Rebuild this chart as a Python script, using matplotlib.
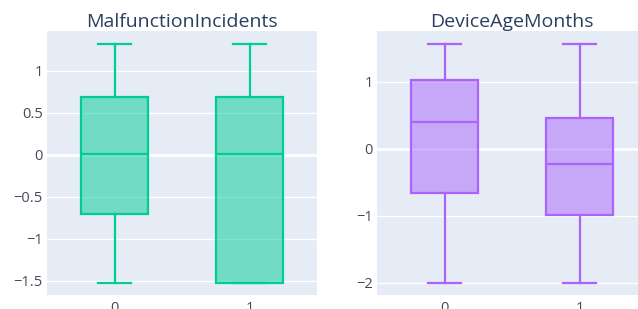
import matplotlib
matplotlib.use("Agg")
import matplotlib.pyplot as plt
from matplotlib.ticker import FuncFormatter

categories = ["0", "1"]

# MalfunctionIncidents box statistics per category
mal_whislo = [-1.52, -1.52]
mal_q1 = [-0.70, -1.52]
mal_med = [0.015, 0.015]
mal_q3 = [0.69, 0.69]
mal_whishi = [1.32, 1.32]

# DeviceAgeMonths box statistics per category
age_whislo = [-2.0, -2.0]
age_q1 = [-0.66, -0.99]
age_med = [0.40, -0.22]
age_q3 = [1.03, 0.46]
age_whishi = [1.57, 1.57]

mal_ticks = [-1.5, -1, -0.5, 0, 0.5, 1]
age_ticks = [-2, -1, 0, 1]

BG = "#E5ECF6"
TXT = "#2a3f5f"
plt.rcParams["font.family"] = ["Open Sans", "DejaVu Sans"]

fig = plt.figure(figsize=(6.38, 3.09), dpi=100)

def fmt(v, pos):
    s = ("%g" % v)
    return s.replace("-", "\u2212")

def panel(rect, title, lo, q1, med, q3, hi, color, ticks, ylim):
    ax = fig.add_axes(rect)
    ax.set_facecolor(BG)
    stats = []
    for i in range(len(categories)):
        stats.append(dict(whislo=lo[i], q1=q1[i], med=med[i], q3=q3[i],
                          whishi=hi[i], fliers=[], label=categories[i]))
    lw = 1.6
    ax.bxp(stats, positions=range(len(categories)), widths=0.5, capwidths=0.25,
           patch_artist=True, showfliers=False,
           boxprops=dict(facecolor=color + "80", edgecolor=color, linewidth=lw),
           medianprops=dict(color=color, linewidth=lw),
           whiskerprops=dict(color=color, linewidth=lw),
           capprops=dict(color=color, linewidth=lw), zorder=3)
    ax.set_xlim(-0.5, len(categories) - 0.5)
    ax.set_ylim(*ylim)
    ax.set_yticks(ticks)
    ax.yaxis.set_major_formatter(FuncFormatter(fmt))
    ax.set_xticks(range(len(categories)))
    ax.set_xticklabels(categories)
    for t in ticks:
        ax.axhline(t, color="white", linewidth=2.0 if t == 0 else 1.0, zorder=1)
    for s in ax.spines.values():
        s.set_visible(False)
    ax.tick_params(length=0, labelsize=10.5, labelcolor="#444a5a", pad=3)
    ax.tick_params(axis="x", pad=4)
    ax.set_title(title, fontsize=14, color=TXT, pad=3)
    return ax

panel([47/638, 1 - 295/309, 270/638, 264/309], "MalfunctionIncidents",
      mal_whislo, mal_q1, mal_med, mal_q3, mal_whishi, "#00cc96",
      mal_ticks, (-1.667, 1.476))
panel([377/638, 1 - 295/309, 270/638, 264/309], "DeviceAgeMonths",
      age_whislo, age_q1, age_med, age_q3, age_whishi, "#ab63fa",
      age_ticks, (-2.18, 1.76))

fig.savefig("out.png", dpi=100)
